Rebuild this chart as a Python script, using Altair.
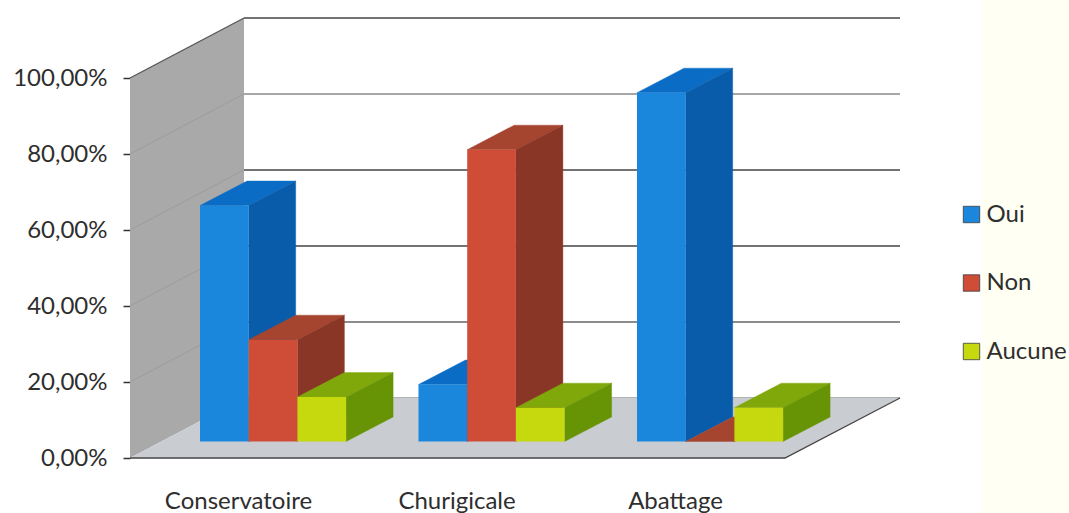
import altair as alt
import pandas as pd

# Chart values
categories = ["Conservatoire", "Churigicale", "Abattage"]
series = ["Oui", "Non", "Aucune"]
oui = [62.1, 15.0, 91.8]
non = [26.8, 76.8, 0.0]
aucune = [11.7, 8.9, 8.9]
y_ticks = [0, 20, 40, 60, 80, 100]

values_by_series = {"Oui": oui, "Non": non, "Aucune": aucune}
front_colors = ["#1b87dc", "#cf4c37", "#c6d80e"]
top_colors = ["#0a6cc4", "#a6452f", "#80a80a"]
side_colors = ["#095caa", "#8a3627", "#679405"]

FONT = "Lato"
TEXT = "#2e2e2e"

# Plot geometry: one x unit is one pixel, y is in percentage points
PX_PER_PCT = 3.8
WIDTH, HEIGHT = 939, 458
Y_MAX = HEIGHT / PX_PER_PCT
WALL_DX, WALL_DY = 114, 60 / PX_PER_PCT
FLOOR_W = 655
GROUP_START, GROUP_STEP, BAR_W = 70, 218.5, 48.7
BASE_Y = 16.5 / PX_PER_PCT
BAR_DX, BAR_DY = 47, 24.5 / PX_PER_PCT
LABEL_OFFSET = 38

x_scale = alt.Scale(domain=[0, WIDTH], nice=False, zero=False)
y_scale = alt.Scale(domain=[0, Y_MAX], nice=False, zero=False)


def qx(field="x", axis=None):
    return alt.X(f"{field}:Q", scale=x_scale, axis=axis, title=None)


def qy(field="y", axis=None):
    return alt.Y(f"{field}:Q", scale=y_scale, axis=axis, title=None)


label_pos = [GROUP_START + i * GROUP_STEP + LABEL_OFFSET for i in range(len(categories))]
lookup = "{" + ",".join(f"'{p:g}':'{c}'" for p, c in zip(label_pos, categories)) + "}"

x_axis = alt.Axis(
    values=label_pos, labelExpr=f"{lookup}[datum.value]", domain=False, ticks=False, grid=False,
    labelFont=FONT, labelFontSize=24, labelColor=TEXT, labelPadding=31, labelOverlap=False,
    labelFlush=False,
)
y_axis = alt.Axis(
    values=y_ticks, labelExpr="replace(format(datum.value,'.2f'),'.',',')+'%'",
    domain=False, grid=False, tickSize=7, tickColor="#333333", tickWidth=1.5,
    labelFont=FONT, labelFontSize=24, labelColor=TEXT, labelPadding=16,
)

# Pale strip along the right side, carrying both axes
strip = alt.Chart(pd.DataFrame({"x": [852], "x2": [WIDTH], "y": [-HEIGHT], "y2": [Y_MAX]})).mark_rect(
    color="#fffff3"
).encode(x=qx(axis=x_axis), x2="x2:Q", y=qy(axis=y_axis), y2="y2:Q")

# Side wall
wall = alt.Chart(pd.DataFrame({
    "x": [0, WALL_DX], "y": [0, WALL_DY], "y2": [100, 100 + WALL_DY],
})).mark_area(color="#a9a9a9").encode(x=qx(), y=qy(), y2="y2:Q")

wall_grid_df = pd.DataFrame(
    [{"v": v, "x": dx, "y": v + dy} for v in y_ticks[1:] for dx, dy in [(0, 0), (WALL_DX, WALL_DY)]]
)
wall_grid = alt.Chart(wall_grid_df[wall_grid_df.v < 100]).mark_line(color="#9c9c9c", strokeWidth=1).encode(
    x=qx(), y=qy(), detail="v:N"
)
wall_top = alt.Chart(wall_grid_df[wall_grid_df.v == 100]).mark_line(color="#555555", strokeWidth=1.3).encode(
    x=qx(), y=qy()
)

# Floor
floor = alt.Chart(pd.DataFrame({
    "y": [0, WALL_DY], "x": [0, WALL_DX], "x2": [FLOOR_W, FLOOR_W + WALL_DX],
})).mark_area(orient="horizontal", color="#c9ccd1").encode(x=qx(), x2="x2:Q", y=qy())

floor_edge = alt.Chart(pd.DataFrame({
    "x": [0, FLOOR_W, FLOOR_W + WALL_DX + 1], "y": [0, 0, WALL_DY],
})).mark_line(color="#444444", strokeWidth=1.4).encode(x=qx(), y=qy(), order="x:Q")

# Gridlines on the back wall
back_grid = alt.Chart(pd.DataFrame({
    "x": [WALL_DX] * len(y_ticks),
    "x2": [FLOOR_W + WALL_DX + 1] * len(y_ticks),
    "y": [v + WALL_DY for v in y_ticks],
    "c": ["#9a9a9a", "#666666", "#444444", "#444444", "#8a8a8a", "#444444"],
})).mark_rule(strokeWidth=1.5).encode(x=qx(), x2="x2:Q", y=qy(), color=alt.Color("c:N", scale=None))

color = alt.Color(
    "series:N",
    scale=alt.Scale(domain=series, range=front_colors),
    legend=alt.Legend(
        title=None, orient="none", legendX=829.5, legendY=202.5, symbolType="square", symbolSize=270,
        symbolStrokeColor="#3a3a3a", symbolStrokeWidth=0.8, labelFont=FONT, labelFontSize=24,
        labelColor=TEXT, rowPadding=44.5, labelOffset=3, padding=0, symbolOpacity=1,
    ),
)

# Each series paints its front, top and side faces in left-to-right order
bar_layers = []
for s_idx, name in enumerate(series):
    front_rows, top_rows, side_rows = [], [], []
    for c_idx, (cat, value) in enumerate(zip(categories, values_by_series[name])):
        x0 = GROUP_START + c_idx * GROUP_STEP + s_idx * BAR_W
        x1 = x0 + BAR_W
        top = BASE_Y + value
        front_rows.append({"series": name, "x": x0, "x2": x1, "y": BASE_Y, "y2": top})
        top_rows += [
            {"cat": cat, "x": x0, "x2": x1, "y": top},
            {"cat": cat, "x": x0 + BAR_DX, "x2": x1 + BAR_DX, "y": top + BAR_DY},
        ]
        side_rows += [
            {"cat": cat, "x": x1, "y": BASE_Y, "y2": top},
            {"cat": cat, "x": x1 + BAR_DX, "y": BASE_Y + BAR_DY, "y2": top + BAR_DY},
        ]
    top_layer = alt.Chart(pd.DataFrame(top_rows)).mark_area(
        orient="horizontal", color=top_colors[s_idx], stroke=top_colors[s_idx], strokeWidth=0.4
    ).encode(x=qx(), x2="x2:Q", y=qy(), detail="cat:N")
    side_layer = alt.Chart(pd.DataFrame(side_rows)).mark_area(
        color=side_colors[s_idx], stroke=side_colors[s_idx], strokeWidth=0.4
    ).encode(x=qx(), y=qy(), y2="y2:Q", detail="cat:N")
    front_layer = alt.Chart(pd.DataFrame(front_rows)).mark_rect().encode(
        x=qx(), x2="x2:Q", y=qy(), y2="y2:Q", color=color
    )
    bar_layers += [top_layer, side_layer, front_layer]

chart = alt.layer(
    strip, wall, wall_grid, wall_top, back_grid, floor, floor_edge, *bar_layers
).resolve_axis(
    x="independent", y="independent"
).properties(
    width=WIDTH,
    height=HEIGHT,
    background="white",
    padding={"left": 130, "top": 0, "right": 0, "bottom": 55},
    autosize=alt.AutoSizeParams(type="none"),
).configure_view(stroke=None)

chart.save("out.html", embed_options={"renderer": "svg", "actions": False})
